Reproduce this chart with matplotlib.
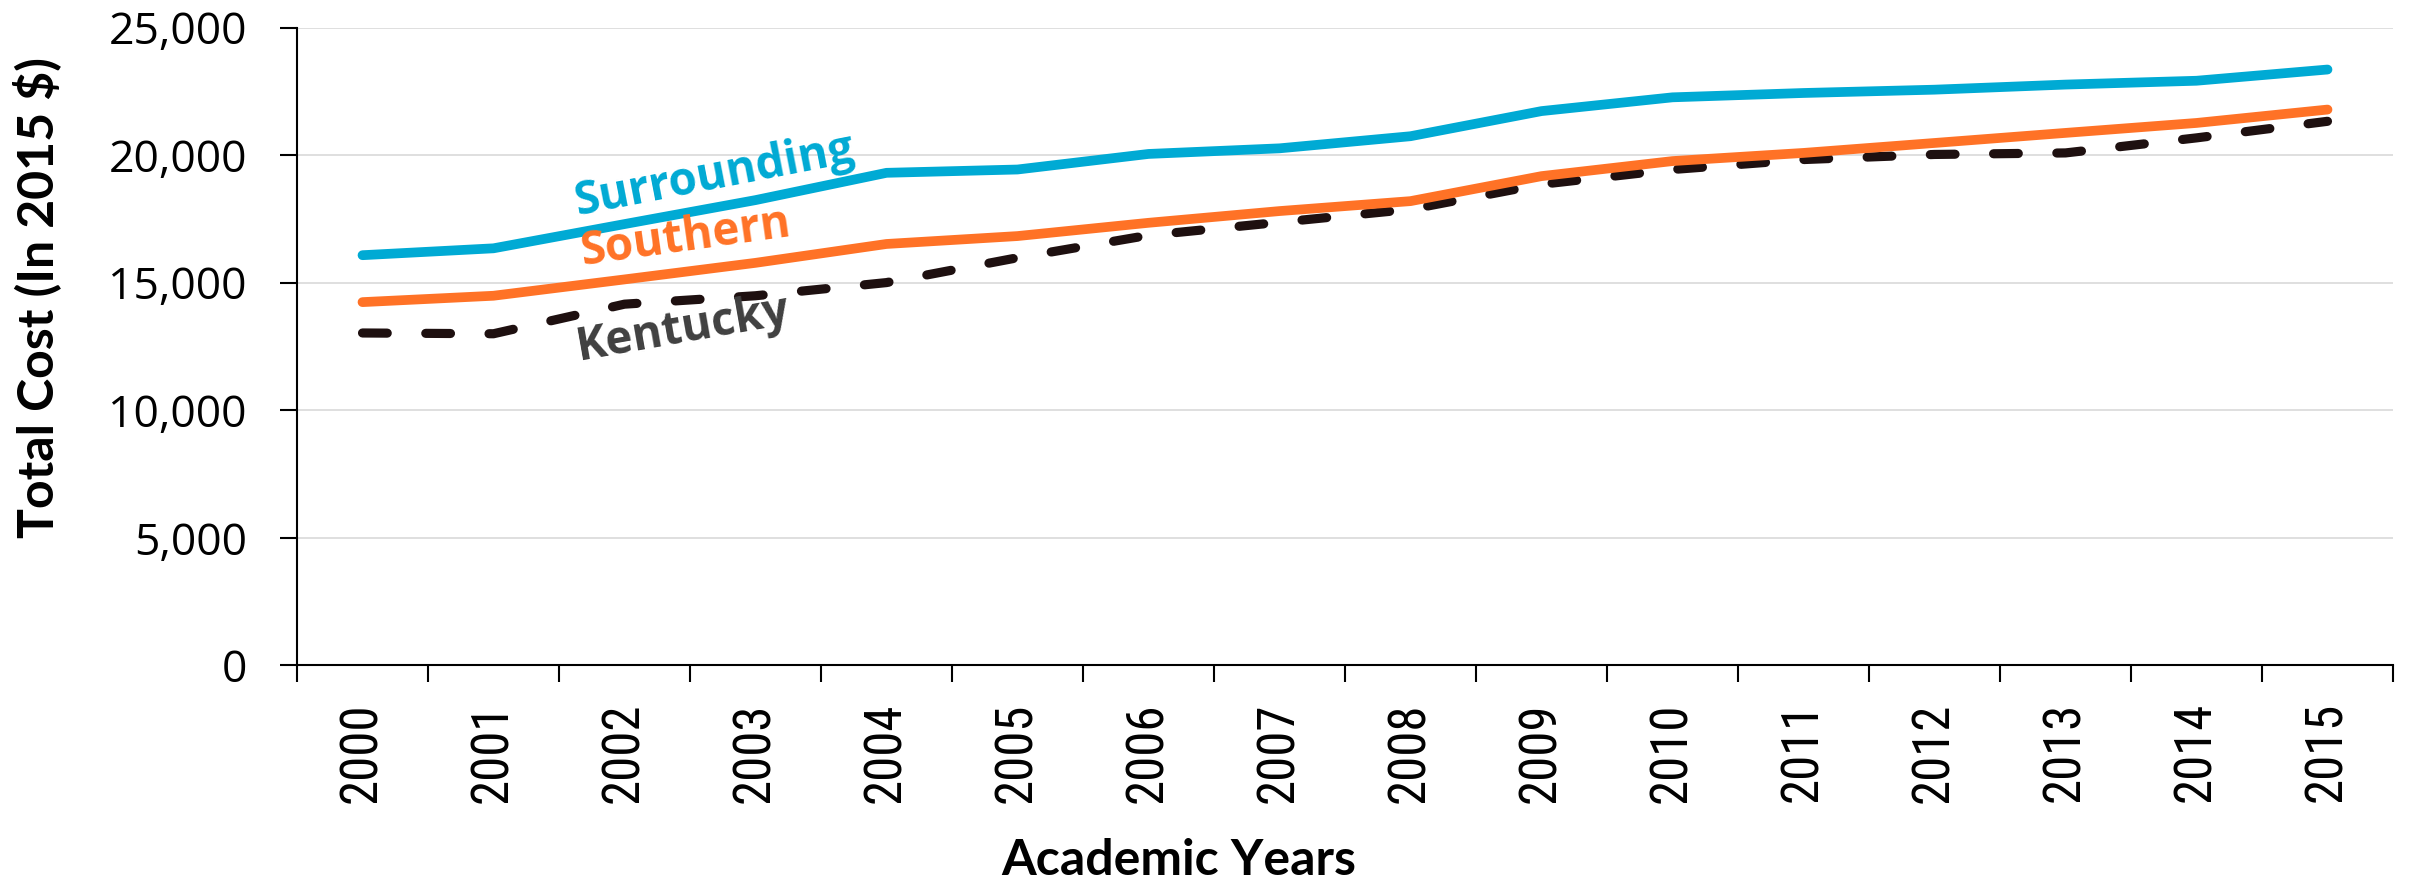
import matplotlib
matplotlib.use("Agg")
import matplotlib.pyplot as plt
from matplotlib.ticker import FixedLocator, FuncFormatter

# ---- data ----
years = [str(y) for y in range(2000, 2016)]
surrounding = [16080, 16350, 17300, 18240, 19310, 19440, 20050, 20270,
               20745, 21730, 22270, 22440, 22570, 22770, 22920, 23360]
southern = [14240, 14490, 15130, 15780, 16520, 16830, 17350, 17810,
            18200, 19180, 19770, 20090, 20480, 20875, 21265, 21790]
kentucky = [13030, 13000, 14160, 14490, 15006, 15980, 16860, 17370,
            17880, 18860, 19440, 19830, 20030, 20090, 20680, 21330]
yticks = [0, 5000, 10000, 15000, 20000, 25000]
series_names = ["Surrounding", "Southern", "Kentucky"]
y_label = "Total Cost (In 2015 $)"
x_label = "Academic Years"

# ---- style ----
W, H = 2415, 881
DPI = 100
C_SUR = "#00AAD4"
C_SOU = "#FF7226"
C_KY = "#1E1010"
C_KY_TXT = "#404040"

fig = plt.figure(figsize=(W / DPI, H / DPI), dpi=DPI)
ax = fig.add_axes([297 / W, (H - 665.3) / H, 2096 / W, (665.3 - 27.7) / H])

x = list(range(len(years)))
ax.plot(x, surrounding, color=C_SUR, lw=7.0, solid_capstyle="round",
        solid_joinstyle="round", zorder=3)
ax.plot(x, southern, color=C_SOU, lw=7.0, solid_capstyle="round",
        solid_joinstyle="round", zorder=3)
ax.plot(x, kentucky, color=C_KY, lw=6.6, dashes=(2.7, 4.2),
        dash_capstyle="round", dash_joinstyle="round", zorder=2)

ax.set_xlim(-0.5, len(years) - 0.5)
ax.set_ylim(0, 25000)

# y axis
ax.yaxis.set_major_locator(FixedLocator(yticks))
ax.yaxis.set_major_formatter(FuncFormatter(lambda v, p: f"{int(v):,}"))
ax.tick_params(axis="y", which="major", direction="out", length=12.2,
               width=1.5, pad=23.8, labelsize=32, color="black")
for lab in ax.get_yticklabels():
    lab.set_family("Open Sans")

# x axis
ax.set_xticks(x)
ax.set_xticklabels(years, rotation=90, family="Roboto Condensed", fontsize=36.5)
ax.set_xticks([i - 0.5 for i in range(len(years) + 1)], minor=True)
ax.tick_params(axis="x", which="major", length=0, pad=26.6)
ax.tick_params(axis="x", which="minor", direction="out", length=12.2,
               width=1.5, color="black")

# grid
ax.set_axisbelow(True)
ax.grid(axis="y", which="major", color="#D9D9D9", lw=1.2)
ax.grid(axis="x", visible=False)

for s in ["top", "right"]:
    ax.spines[s].set_visible(False)
for s in ["left", "bottom"]:
    ax.spines[s].set_linewidth(1.5)
    ax.spines[s].set_color("black")

# axis labels
ax.set_ylabel(y_label, family="Lato", weight="bold", fontsize=36, va="center")
ax.yaxis.set_label_coords(37 / W, 1 - 298 / H, transform=fig.transFigure)
ax.set_xlabel(x_label, family="Lato", weight="bold", fontsize=36, va="baseline")
ax.xaxis.set_label_coords(1179 / W, 6 / H, transform=fig.transFigure)

# series labels
lab_kw = dict(family="Open Sans", weight="bold", fontsize=33,
              ha="center", va="center", rotation_mode="anchor")
ax.text(2.69, 19180, series_names[0], color=C_SUR, rotation=11, **lab_kw)
ax.text(2.47, 16755, series_names[1], color=C_SOU, rotation=8, **lab_kw)
ax.text(2.45, 13195, series_names[2], color=C_KY_TXT, rotation=10, **lab_kw)

fig.savefig("out.png", dpi=DPI)
